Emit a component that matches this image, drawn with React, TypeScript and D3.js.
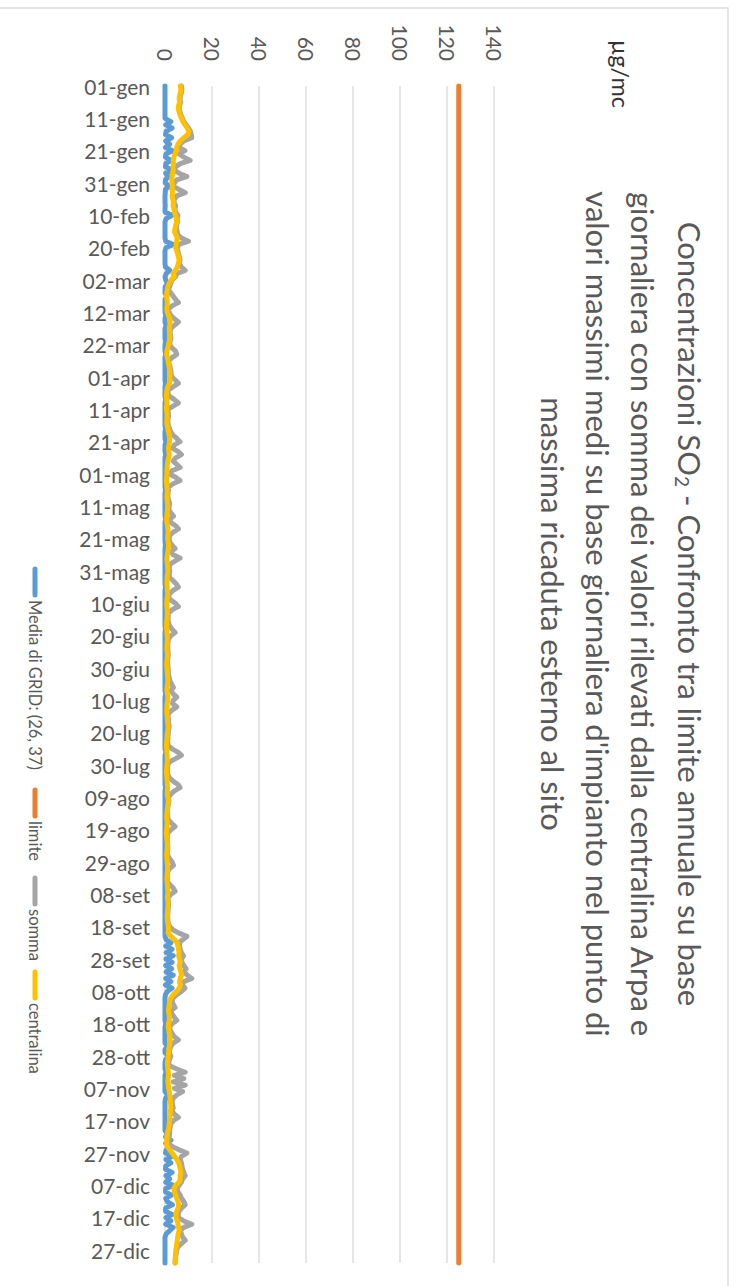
import React from "react";
import * as d3 from "d3";

// ---------- DATA ----------
const tickLabels = [
  "01-gen", "11-gen", "21-gen", "31-gen", "10-feb", "20-feb", "02-mar", "12-mar", "22-mar",
  "01-apr", "11-apr", "21-apr", "01-mag", "11-mag", "21-mag", "31-mag", "10-giu", "20-giu",
  "30-giu", "10-lug", "20-lug", "30-lug", "09-ago", "19-ago", "29-ago", "08-set", "18-set",
  "28-set", "08-ott", "18-ott", "28-ott", "07-nov", "17-nov", "27-nov", "07-dic", "17-dic", "27-dic",
];
const valueTicks = [0, 20, 40, 60, 80, 100, 120, 140];
const limiteValue = 125;

// Media di GRID: (26, 37)
const media = [
  // gen
  0, 0, 0, 0, 0, 0, 0, 0, 0, 0, 0, 2.5, 0.3, 3.0, 0.5, 0.2, 2.8, 0.3, 2.0, 0.2, 3.2, 0.4, 0.2, 2.5, 0.3, 0.2, 3.0, 0.3, 1.5, 0.2, 0.1,
  // feb
  1.8, 0.2, 0.1, 0, 0, 0, 0.1, 0, 0, 3.0, 0.5, 0, 0, 0, 0, 0, 0, 0.3, 3.5, 0.4, 0, 0, 0, 0, 0, 0.2, 2.0, 0.5,
  // mar
  0, 0.3, 1.2, 0.1, 0, 0, 0.8, 0, 0, 0, 0, 0, 0.3, 0, 0, 0.5, 0, 0, 0, 0, 0.2, 0, 0, 0, 0.3, 0, 0, 0, 0, 0, 0,
  // apr
  0, 0, 0.2, 0, 0, 0, 0, 0.3, 0, 0, 0, 0, 0, 0, 0, 0, 0.2, 0, 0, 0, 0.4, 0, 0, 0, 0.3, 0, 0, 0, 0, 0,
  // mag
  0, 0, 0, 0, 0, 0.2, 0, 0, 0, 0, 0, 0, 0, 0, 0.3, 0, 0, 0, 0, 0, 0, 0, 0.2, 0, 0, 0, 0, 0, 0, 0, 0,
  // giu
  0, 0, 0, 0, 0.2, 0, 0, 0, 0, 0, 0, 0, 0, 0, 0, 0, 0, 0.2, 0, 0, 0, 0, 0, 0, 0, 0, 0, 0, 0, 0,
  // lug
  0, 0, 0, 0, 0, 0, 0, 0.3, 0, 0, 0, 0, 0, 0, 0, 0, 0, 0, 0, 0, 0, 0, 0, 0, 0, 0.4, 0, 0, 0, 0, 0,
  // ago
  0, 0, 0, 0, 0, 0.3, 0, 0, 0, 0, 0, 0, 0, 0, 0, 0, 0, 0, 0, 0, 0, 0, 0, 0, 0, 0, 0, 0, 0, 0, 0,
  // set
  0, 0, 0, 0, 0, 0, 0, 0, 0, 0, 0, 0, 0, 0, 0, 0, 0, 0, 0, 0, 0, 0.5, 2.5, 0.3, 3.0, 0.5, 3.5, 0.4, 3.0, 0.3,
  // ott
  2.8, 0.5, 3.5, 0.3, 2.5, 0.2, 3.0, 1.0, 0.2, 0, 0, 0, 0, 0, 0, 0, 0, 0.3, 0, 0, 0, 0, 0, 0, 1.0, 0, 0, 2.0, 0.3, 0, 0,
  // nov
  0, 0.5, 0, 0, 0, 0, 0, 0, 1.4, 0.3, 0, 0, 0, 0, 0, 0, 0, 0, 0, 0, 1.0, 0.2, 2.5, 0.3, 3.0, 0.5, 0.2, 3.2, 0.4, 2.5,
  // dic
  0.3, 0.2, 3.0, 0.4, 2.0, 0.3, 3.5, 0.3, 0.2, 2.8, 0.3, 1.0, 3.2, 0.3, 0.2, 3.0, 0.4, 2.5, 0.3, 3.5, 2.0, 0.5, 0, 0, 0, 0, 0, 0, 0, 0, 0,
];

// somma
const somma = [
  // gen
  7.0, 7.2, 7.0, 6.6, 6.4, 6.7, 6.2, 6.0, 6.4, 6.8, 7.4, 8.0, 9.0, 10.0, 10.8, 11.2, 11.4, 8.0, 6.5, 6.0, 8.5, 6.0, 8.0, 10.7, 6.5, 4.5, 4.0, 6.0, 9.3, 5.0, 4.0,
  // feb
  3.5, 6.0, 8.6, 5.0, 4.0, 3.8, 4.5, 4.2, 4.5, 5.5, 5.2, 5.3, 5.0, 4.8, 5.2, 5.5, 7.0, 10.0, 6.0, 5.0, 5.5, 5.8, 6.2, 6.4, 6.0, 7.0, 8.6, 5.0,
  // mar
  4.5, 3.0, 2.5, 2.0, 1.5, 2.5, 3.5, 4.5, 5.7, 3.0, 1.5, 1.8, 2.5, 4.0, 5.7, 4.0, 2.5, 2.2, 2.3, 2.5, 2.2, 2.0, 3.0, 4.5, 5.0, 3.0, 1.5, 1.8, 2.2, 2.5, 2.6,
  // apr
  3.0, 4.5, 5.7, 3.5, 1.5, 1.2, 2.0, 4.0, 5.7, 3.5, 1.2, 1.4, 1.5, 1.3, 1.2, 1.5, 2.0, 2.5, 3.5, 5.0, 6.4, 4.0, 3.0, 5.5, 7.0, 4.5, 3.5, 5.0, 6.4, 3.0,
  // mag
  2.0, 4.5, 6.4, 3.5, 1.5, 1.5, 1.3, 1.2, 1.5, 2.0, 1.8, 1.5, 2.5, 3.6, 2.0, 2.5, 4.5, 5.7, 3.5, 2.0, 1.8, 2.0, 3.0, 4.3, 2.5, 3.5, 6.4, 4.0, 2.0, 1.8, 2.0,
  // giu
  1.8, 2.0, 3.5, 4.8, 5.7, 3.5, 2.0, 1.5, 2.5, 4.5, 5.7, 3.0, 1.5, 1.4, 1.3, 1.5, 2.0, 3.0, 4.3, 2.5, 1.5, 1.3, 1.2, 1.2, 1.3, 1.4, 1.2, 1.1, 1.2, 1.3,
  // lug
  1.4, 1.5, 1.8, 2.2, 2.8, 3.6, 2.5, 3.5, 5.0, 3.5, 3.2, 5.0, 3.0, 1.5, 1.3, 1.5, 1.6, 1.8, 1.6, 1.4, 1.3, 1.2, 1.1, 1.5, 3.0, 5.5, 7.0, 4.5, 2.0, 1.2, 1.1,
  // ago
  1.0, 1.2, 2.0, 3.5, 5.5, 6.4, 4.0, 2.5, 1.5, 1.6, 1.5, 1.2, 1.0, 1.0, 1.1, 1.5, 2.8, 4.3, 2.5, 1.2, 1.0, 1.0, 1.1, 1.2, 1.1, 1.0, 1.2, 2.0, 3.0, 3.6, 2.0,
  // set
  1.2, 1.0, 1.0, 1.1, 2.0, 3.5, 4.3, 2.5, 1.3, 1.4, 1.5, 1.4, 1.3, 1.2, 1.1, 1.2, 1.5, 2.0, 3.5, 6.0, 9.3, 7.5, 6.0, 6.2, 6.5, 7.0, 7.9, 7.0, 7.2, 8.0,
  // ott
  9.0, 8.0, 9.5, 11.4, 8.0, 7.5, 8.5, 7.0, 5.0, 3.5, 3.0, 3.5, 4.3, 2.5, 3.0, 4.0, 5.0, 3.0, 2.0, 2.2, 3.0, 4.0, 5.7, 3.5, 2.5, 2.0, 1.8, 2.5, 2.0, 1.5, 2.0,
  // nov
  5.0, 8.6, 4.0, 8.0, 3.5, 8.6, 4.0, 7.5, 5.0, 3.5, 3.0, 3.2, 3.5, 3.0, 4.0, 5.7, 3.5, 2.5, 2.2, 2.0, 2.0, 1.8, 1.5, 1.5, 3.0, 6.0, 9.3, 7.0, 6.5, 7.0,
  // dic
  7.2, 7.5, 8.0, 8.6, 7.5, 7.0, 6.0, 5.0, 5.5, 6.5, 7.0, 8.0, 8.6, 7.0, 6.0, 5.5, 6.0, 8.0, 11.4, 8.0, 6.5, 7.0, 7.5, 8.6, 7.0, 5.5, 5.0, 4.8, 4.5, 4.4, 4.3,
];

// centralina
const centralina = [
  // gen
  6.5, 6.8, 6.6, 6.2, 6.0, 6.3, 5.8, 5.6, 6.0, 6.4, 7.0, 7.6, 8.5, 9.5, 10.2, 9.8, 8.0, 6.5, 5.5, 5.0, 4.8, 4.2, 3.8, 3.5, 3.6, 3.4, 3.5, 3.2, 3.0, 2.9, 3.0,
  // feb
  3.1, 3.0, 3.2, 3.0, 3.3, 3.6, 3.4, 3.8, 4.0, 4.5, 4.8, 5.0, 4.6, 4.3, 4.0, 4.6, 5.2, 5.0, 4.8, 4.5, 5.0, 5.4, 5.8, 6.0, 5.6, 5.2, 4.5, 3.4,
  // mar
  4.0, 2.5, 1.8, 1.2, 1.0, 0.8, 0.6, 0.8, 1.0, 0.9, 0.7, 1.0, 1.5, 2.0, 2.2, 2.0, 1.8, 1.9, 2.0, 2.1, 1.8, 1.5, 1.2, 0.8, 0.7, 1.0, 1.3, 1.5, 1.8, 2.0, 2.1,
  // apr
  2.0, 2.2, 1.8, 1.2, 0.8, 0.7, 0.6, 0.7, 0.8, 0.7, 0.6, 0.8, 0.9, 0.8, 0.7, 0.9, 1.2, 1.5, 1.8, 2.0, 1.9, 1.7, 1.5, 1.6, 1.8, 1.5, 1.2, 1.0, 0.9, 0.8,
  // mag
  0.8, 0.7, 0.6, 0.7, 0.8, 1.0, 0.9, 0.8, 0.9, 1.0, 1.1, 1.0, 0.9, 0.8, 0.7, 0.8, 1.0, 1.2, 1.3, 1.2, 1.1, 1.3, 1.5, 1.4, 1.2, 1.0, 0.8, 0.9, 1.0, 1.1, 1.2,
  // giu
  1.0, 0.9, 0.8, 0.8, 0.9, 1.0, 1.1, 1.0, 0.8, 0.7, 0.8, 0.9, 1.0, 0.9, 0.8, 0.7, 0.6, 0.7, 0.8, 0.9, 1.0, 0.9, 0.8, 0.8, 0.9, 1.0, 0.9, 0.8, 0.7, 0.8,
  // lug
  0.9, 1.0, 1.1, 1.2, 1.0, 0.9, 0.8, 1.0, 1.2, 1.1, 0.9, 0.8, 0.7, 0.8, 0.9, 1.0, 1.1, 1.3, 1.2, 1.0, 0.9, 0.8, 0.7, 0.6, 0.7, 0.8, 0.9, 1.0, 0.9, 0.8, 0.7,
  // ago
  0.6, 0.7, 0.8, 0.9, 1.0, 1.1, 1.0, 0.9, 1.2, 1.4, 1.3, 1.1, 0.9, 0.8, 0.7, 0.8, 0.9, 0.8, 0.7, 0.6, 0.7, 0.8, 0.9, 1.0, 0.9, 0.8, 0.7, 0.8, 0.9, 1.0, 1.1,
  // set
  1.0, 0.9, 0.8, 0.9, 1.0, 1.1, 1.2, 1.1, 1.0, 1.2, 1.3, 1.2, 1.1, 1.0, 0.9, 1.0, 1.2, 1.4, 1.5, 1.3, 2.5, 4.0, 5.2, 5.5, 5.8, 6.0, 5.8, 6.2, 6.5, 6.0,
  // ott
  6.3, 6.8, 7.0, 6.5, 6.2, 6.6, 6.0, 5.0, 3.5, 2.5, 2.0, 1.8, 1.6, 1.5, 1.7, 1.9, 1.8, 1.5, 1.4, 1.6, 1.8, 2.0, 2.2, 2.0, 1.8, 1.6, 1.5, 1.4, 1.2, 1.0, 1.1,
  // nov
  1.2, 1.4, 1.5, 1.3, 1.2, 1.4, 1.6, 1.8, 2.0, 2.2, 2.3, 2.4, 2.5, 2.3, 2.2, 2.0, 1.9, 1.8, 1.6, 1.3, 1.0, 0.8, 0.7, 0.7, 1.0, 2.0, 3.0, 4.0, 5.0, 5.8,
  // dic
  6.2, 6.5, 6.8, 6.4, 6.5, 6.0, 4.5, 3.8, 4.0, 4.5, 5.0, 5.5, 5.8, 5.5, 5.0, 4.6, 4.8, 5.2, 5.5, 5.8, 6.0, 5.6, 5.4, 5.2, 5.0, 4.8, 4.6, 4.5, 4.4, 4.3, 4.3,
];

const limite = media.map(() => limiteValue);

const titleLines = [
  "Concentrazioni SO|2| - Confronto tra limite annuale su base",
  "giornaliera con somma dei valori rilevati dalla centralina Arpa e",
  "valori massimi medi su base giornaliera d'impianto nel punto di",
  "massima ricaduta esterno al sito",
];

const legendItems = [
  { name: "Media di GRID: (26, 37)", color: "#5B9BD5" },
  { name: "limite", color: "#ED7D31" },
  { name: "somma", color: "#A5A5A5" },
  { name: "centralina", color: "#FFC000" },
];

// ---------- CHART ----------
const W = 738;
const H = 1286;
const FONT = "Lato, 'Open Sans', sans-serif";
const TXT = "#595959";

export default function App() {
  const n = media.length;
  const days = d3.range(n);
  const yCat = d3.scalePoint<number>().domain(days).range([86, 1263]);
  const xVal = d3.scaleLinear().domain([0, 140]).range([165, 494]);

  const line = (vals: number[]) =>
    d3
      .line<number>()
      .x((d) => xVal(d))
      .y((_, i) => yCat(i) as number)(vals) as string;

  const series = [
    { vals: media, color: "#5B9BD5" },
    { vals: limite, color: "#ED7D31" },
    { vals: somma, color: "#A5A5A5" },
    { vals: centralina, color: "#FFC000" },
  ];

  const titleX = [690, 643, 598, 553];
  const legendStarts = [569, 790, 878, 972];

  return (
    <svg
      width={W}
      height={H}
      style={{ position: "absolute", left: 0, top: 0, background: "#fff" }}
      fontFamily={FONT}
    >
      <rect x={-2} y={8} width={730} height={1300} fill="#fff" stroke="#d9d9d9" strokeWidth={1.3} />

      {/* gridlines */}
      {valueTicks.map((t) => (
        <line
          key={t}
          x1={xVal(t)}
          x2={xVal(t)}
          y1={86}
          y2={1263}
          stroke="#d9d9d9"
          strokeWidth={1.3}
        />
      ))}

      {/* value tick labels (rotated) */}
      {valueTicks.map((t) => (
        <text
          key={t}
          transform={`translate(${xVal(t)},61) rotate(90)`}
          textAnchor="end"
          dominantBaseline="central"
          fontSize={21}
          fill={TXT}
        >
          {t}
        </text>
      ))}

      {/* category tick labels */}
      {tickLabels.map((lab, i) => (
        <text
          key={lab}
          x={150}
          y={yCat(i * 10) as number}
          textAnchor="end"
          dominantBaseline="central"
          fontSize={21}
          fill={TXT}
        >
          {lab}
        </text>
      ))}

      {/* series */}
      {series.map((s, i) => (
        <path
          key={i}
          d={line(s.vals)}
          fill="none"
          stroke={s.color}
          strokeWidth={5}
          strokeLinejoin="round"
          strokeLinecap="round"
        />
      ))}

      {/* unit label */}
      <text
        transform="translate(621,40) rotate(90)"
        textAnchor="start"
        dominantBaseline="central"
        fontSize={23.5}
        fill="#333333"
      >
        µg/mc
      </text>

      {/* title */}
      {titleLines.map((ln, i) => {
        const parts = ln.split("|");
        return (
          <text
            key={i}
            transform={`translate(${titleX[i]},614) rotate(90)`}
            textAnchor="middle"
            dominantBaseline="central"
            fontSize={31}
            fill={TXT}
          >
            {parts.length === 1
              ? ln
              : [
                  <tspan key="a">{parts[0]}</tspan>,
                  <tspan key="b" fontSize={19} dy={7}>
                    {parts[1]}
                  </tspan>,
                  <tspan key="c" dy={-7}>
                    {parts[2]}
                  </tspan>,
                ]}
          </text>
        );
      })}

      {/* legend */}
      {legendItems.map((it, i) => (
        <g key={it.name}>
          <line
            x1={35}
            x2={35}
            y1={legendStarts[i]}
            y2={legendStarts[i] + 26}
            stroke={it.color}
            strokeWidth={5}
            strokeLinecap="round"
          />
          <text
            transform={`translate(35,${legendStarts[i] + 31}) rotate(90)`}
            textAnchor="start"
            dominantBaseline="central"
            fontSize={16.5}
            fill={TXT}
          >
            {it.name}
          </text>
        </g>
      ))}
    </svg>
  );
}
